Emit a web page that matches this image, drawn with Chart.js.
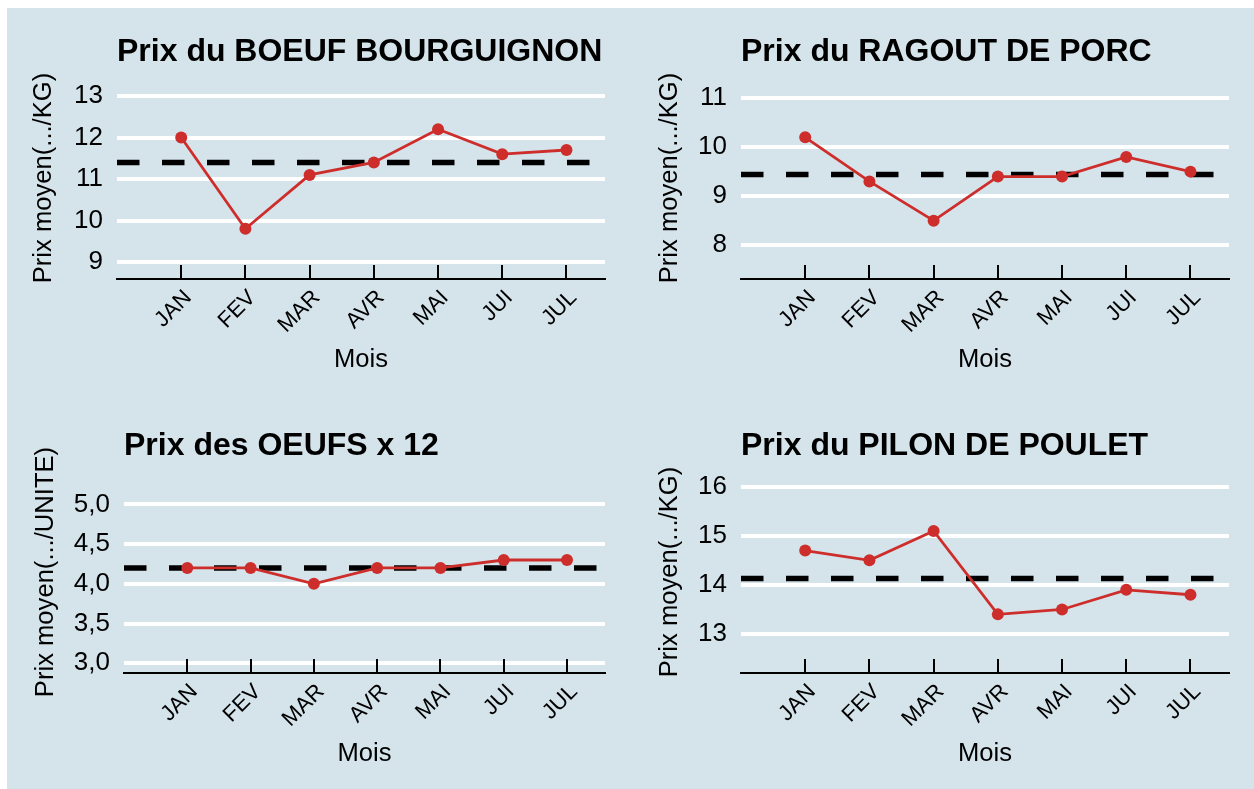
<!DOCTYPE html>
<html lang="fr">
<head>
<meta charset="utf-8">
<title>Prix moyens par mois</title>
<script src="https://cdn.jsdelivr.net/npm/chart.js@4.4.1/dist/chart.umd.min.js"></script>
<style>
    body { margin: 0; background: white; }
    #fond { position: absolute; left: 7px; top: 8px; width: 1247px; height: 781px; background: #d5e4eb; }
    canvas { position: absolute; }
</style>
</head>
<body>
<div id="fond"></div>
<canvas id="boeufChart" width="627" height="394" style="left:0;top:0"></canvas>
<canvas id="porcChart" width="627" height="394" style="left:627px;top:0"></canvas>
<canvas id="oeufsChart" width="627" height="395" style="left:0;top:394px"></canvas>
<canvas id="pouletChart" width="627" height="395" style="left:627px;top:394px"></canvas>
<script>
const mois = ['JAN', 'FEV', 'MAR', 'AVR', 'MAI', 'JUI', 'JUL'];
const positionsMois = [1, 2, 3, 4, 5, 6, 7];

const prixBoeuf = [12.0, 9.8, 11.1, 11.4, 12.2, 11.6, 11.7];
const prixPorc = [10.2, 9.3, 8.5, 9.4, 9.4, 9.8, 9.5];
const prixOeufs = [4.2, 4.2, 4.0, 4.2, 4.2, 4.3, 4.3];
const prixPoulet = [14.7, 14.5, 15.1, 13.4, 13.5, 13.9, 13.8];

// prix moyen (ligne pointillee) de chaque graphique
const moyennes = [11.4, 9.44, 4.2, 14.13];

const ticksBoeuf = [9, 10, 11, 12, 13];
const ticksPorc = [8, 9, 10, 11];
const ticksOeufs = [3, 3.5, 4, 4.5, 5];
const ticksPoulet = [13, 14, 15, 16];

const labelsBoeuf = ['9', '10', '11', '12', '13'];
const labelsPorc = ['8', '9', '10', '11'];
const labelsOeufs = ['3,0', '3,5', '4,0', '4,5', '5,0'];
const labelsPoulet = ['13', '14', '15', '16'];

const ROUGE = '#ce2e2b';
const X_MIN = 0;
const X_MAX = 7.6;

Chart.defaults.font.family = "'Liberation Sans', Arial, sans-serif";
Chart.defaults.color = '#000';

// petits traits vers le haut sur l'axe des mois
const tickMarks = {
    id: 'tickMarks',
    beforeDatasetsDraw(chart) {
        const { ctx, chartArea, scales: { x } } = chart;
        ctx.save();
        ctx.strokeStyle = '#000';
        ctx.lineWidth = 2;
        positionsMois.forEach(v => {
            const px = Math.round(x.getPixelForValue(v));
            ctx.beginPath();
            ctx.moveTo(px, chartArea.bottom);
            ctx.lineTo(px, chartArea.bottom - 14);
            ctx.stroke();
        });
        ctx.restore();
    }
};

function prixChart(id, c) {
    const ctx = document.getElementById(id).getContext('2d');
    return new Chart(ctx, {
        type: 'line',
        data: {
            datasets: [{
                label: 'Prix',
                data: c.values.map((v, i) => ({ x: positionsMois[i], y: v })),
                borderColor: ROUGE,
                backgroundColor: ROUGE,
                borderWidth: 2.8,
                pointRadius: 6,
                pointBorderWidth: 0,
                pointBackgroundColor: ROUGE
            }, {
                label: 'Moyenne',
                data: [{ x: X_MIN, y: c.mean }, { x: X_MAX, y: c.mean }],
                borderColor: '#000',
                borderWidth: 5.5,
                borderDash: [22.5, 22.5],
                pointRadius: 0
            }]
        },
        plugins: [tickMarks],
        options: {
            responsive: false,
            animation: false,
            layout: { padding: { top: 0, left: 0, bottom: 0, right: c.right } },
            plugins: {
                legend: { display: false },
                tooltip: { enabled: false },
                title: {
                    display: true,
                    text: c.title,
                    align: 'start',
                    fullSize: false,
                    color: '#000',
                    font: { size: 32, weight: 'bold' },
                    padding: { top: 33, bottom: 5.6 }
                }
            },
            scales: {
                x: {
                    type: 'linear',
                    min: X_MIN,
                    max: X_MAX,
                    afterBuildTicks: s => { s.ticks = positionsMois.map(v => ({ value: v })); },
                    afterFit: s => { s.height = c.bottom; },
                    border: { display: true, color: '#000', width: 2 },
                    grid: { display: false, drawTicks: false },
                    ticks: {
                        color: '#000',
                        font: { size: 22 },
                        autoSkip: false,
                        minRotation: 45,
                        maxRotation: 45,
                        padding: 6,
                        labelOffset: 7,
                        callback: (v, i) => mois[i]
                    },
                    title: {
                        display: true,
                        text: 'Mois',
                        color: '#000',
                        font: { size: 25.6 },
                        padding: { top: 0, bottom: c.bottom - 115 + 18.6 }
                    }
                },
                y: {
                    min: c.yMin,
                    max: c.yMax,
                    afterBuildTicks: s => { s.ticks = c.ticks.map(v => ({ value: v })); },
                    afterFit: s => { s.width = c.left; },
                    border: { display: false },
                    grid: { color: 'white', lineWidth: 4, drawTicks: false },
                    ticks: {
                        color: '#000',
                        font: { size: 26 },
                        padding: 14,
                        callback: (v, i) => c.labels[i]
                    },
                    title: {
                        display: true,
                        text: c.yTitle,
                        color: '#000',
                        font: { size: 25.6 },
                        padding: { top: c.yTitleX - 15.36, bottom: 0 }
                    }
                }
            }
        }
    });
}

document.addEventListener("DOMContentLoaded", function () {
    // LINE CHART - Boeuf bourguignon
    prixChart('boeufChart', {
        title: 'Prix du BOEUF BOURGUIGNON', yTitle: 'Prix moyen(.../KG)',
        values: prixBoeuf, mean: moyennes[0], ticks: ticksBoeuf, labels: labelsBoeuf,
        yMin: 8.59, yMax: 13.46, left: 117, right: 22, bottom: 115, yTitleX: 44
    });

    // LINE CHART - Ragout de porc
    prixChart('porcChart', {
        title: 'Prix du RAGOUT DE PORC', yTitle: 'Prix moyen(.../KG)',
        values: prixPorc, mean: moyennes[1], ticks: ticksPorc, labels: labelsPorc,
        yMin: 7.31, yMax: 11.43, left: 114, right: 25, bottom: 115, yTitleX: 43
    });

    // LINE CHART - Oeufs x 12
    prixChart('oeufsChart', {
        title: 'Prix des OEUFS x 12', yTitle: 'Prix moyen(.../UNITE)',
        values: prixOeufs, mean: moyennes[2], ticks: ticksOeufs, labels: labelsOeufs,
        yMin: 2.878, yMax: 5.42, left: 124, right: 22, bottom: 116, yTitleX: 46
    });

    // LINE CHART - Pilon de poulet
    prixChart('pouletChart', {
        title: 'Prix du PILON DE POULET', yTitle: 'Prix moyen(.../KG)',
        values: prixPoulet, mean: moyennes[3], ticks: ticksPoulet, labels: labelsPoulet,
        yMin: 12.206, yMax: 16.32, left: 114, right: 25, bottom: 116, yTitleX: 43
    });
});
</script>
</body>
</html>
